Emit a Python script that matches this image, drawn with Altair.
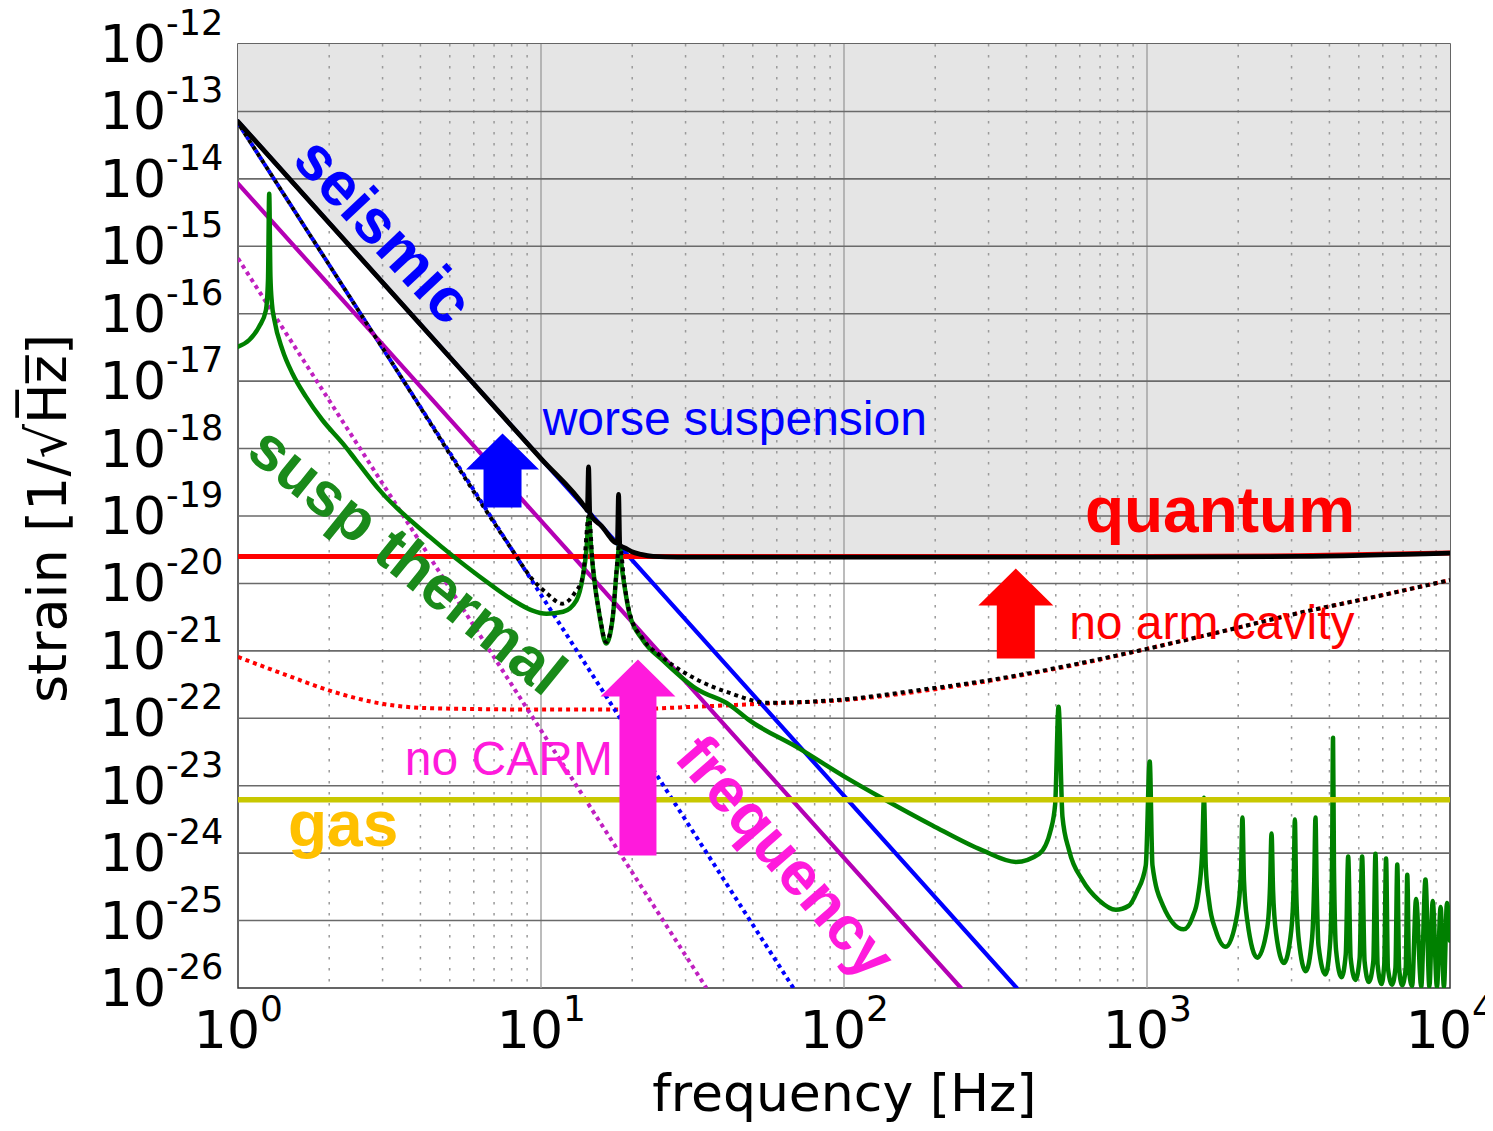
import altair as alt
import numpy as np
import pandas as pd

# ---------------- data (log10 of frequency [Hz] and strain) ----------------
SEISMIC_LOGF = [0.0, 2.570]
SEISMIC_LOGH = [-13.15, -26.0]

SEISMIC_GOOD_LOGF = [0.0, 1.833]          # blue dotted
SEISMIC_GOOD_LOGH = [-13.17, -26.0]

FREQ_LOGF = [0.0, 2.386]                  # magenta solid
FREQ_LOGH = [-14.07, -26.0]

FREQ_GOOD_LOGF = [0.0, 1.546]             # magenta dotted
FREQ_GOOD_LOGH = [-15.18, -26.0]

QUANTUM_LOGF = [0.0, 3.0, 3.5, 4.0]       # red solid
QUANTUM_LOGH = [-19.60, -19.60, -19.59, -19.55]

QUANTUM_GOOD_LOGF = [0.0, 0.16, 0.31, 0.47, 0.63, 1.0, 1.25, 1.5, 1.75, 2.0, 2.25, 2.5,
                     2.75, 3.0, 3.25, 3.5, 3.75, 4.0]
QUANTUM_GOOD_LOGH = [-21.09, -21.36, -21.60, -21.78, -21.85, -21.87, -21.87, -21.83, -21.78,
                     -21.73, -21.60, -21.43, -21.22, -20.97, -20.71, -20.44, -20.20, -19.95]

GAS_LOGF = [0.0, 4.0]
GAS_LOGH = [-23.21, -23.21]

THERMAL_LOGF = [0.000, 0.037, 0.070, 0.092, 0.099, 0.103, 0.107, 0.112, 0.120, 0.147, 0.180,
                0.224, 0.279, 0.345, 0.389, 0.468, 0.633, 0.798, 0.908, 0.970, 1.018, 1.073,
                1.117, 1.138, 1.150, 1.158, 1.165, 1.171, 1.194, 1.215, 1.237, 1.248, 1.253,
                1.259, 1.265, 1.276, 1.292, 1.336, 1.402, 1.512, 1.622, 1.688, 1.853, 1.996,
                2.128, 2.292, 2.457, 2.567, 2.644, 2.682, 2.697, 2.708, 2.721, 2.743, 2.787,
                2.842, 2.897, 2.940, 2.967, 2.996, 3.009, 3.018, 3.052, 3.121, 3.150, 3.168,
                3.182, 3.188, 3.194, 3.205, 3.227, 3.260, 3.298, 3.310, 3.315, 3.320, 3.331,
                3.364, 3.397, 3.406, 3.411, 3.416, 3.426, 3.452, 3.476, 3.484, 3.488, 3.492,
                3.501, 3.524, 3.545, 3.552, 3.556, 3.560, 3.566, 3.589, 3.605, 3.611, 3.614,
                3.617, 3.624, 3.642, 3.656, 3.664, 3.672, 3.688, 3.702, 3.710, 3.718, 3.732,
                3.747, 3.754, 3.761, 3.774, 3.783, 3.789, 3.795, 3.809, 3.820, 3.826, 3.832,
                3.842, 3.854, 3.859, 3.865, 3.875, 3.888, 3.905, 3.919, 3.932, 3.943, 3.957,
                3.969, 3.980, 3.990, 4.000]
THERMAL_LOGH = [-16.49, -16.39, -16.19, -15.95, -15.50, -14.22, -15.45, -15.85, -16.09, -16.54,
                -16.89, -17.23, -17.58, -17.92, -18.17, -18.62, -19.31, -19.90, -20.25, -20.40,
                -20.45, -20.42, -20.25, -19.90, -19.50, -19.01, -19.45, -19.75, -20.50, -20.89,
                -20.50, -19.90, -19.65, -19.41, -19.70, -20.05, -20.45, -20.84, -21.14, -21.56,
                -21.80, -22.03, -22.45, -22.85, -23.19, -23.59, -23.96, -24.13, -24.01, -23.66,
                -23.27, -21.83, -23.46, -23.96, -24.40, -24.70, -24.84, -24.78, -24.57, -24.18,
                -22.64, -24.18, -24.77, -25.13, -24.95, -24.65, -24.00, -23.18, -24.20, -24.72,
                -25.15, -25.39, -24.90, -24.30, -23.47, -24.40, -25.00, -25.55, -25.10, -24.50,
                -23.71, -24.55, -25.19, -25.63, -25.15, -24.50, -23.50, -24.50, -25.29, -25.75,
                -25.25, -24.40, -23.47, -24.50, -25.37, -25.80, -25.29, -24.00, -22.29, -24.20,
                -25.44, -25.84, -25.50, -24.05, -25.55, -25.88, -25.55, -24.05, -25.60, -25.91,
                -25.60, -24.01, -25.65, -25.94, -25.65, -24.08, -25.70, -25.95, -25.70, -24.17,
                -25.70, -25.96, -25.70, -24.32, -25.75, -25.97, -24.68, -25.98, -24.39, -25.98,
                -24.71, -25.99, -24.80, -25.99, -24.74, -25.30]

TOTAL_LOGF = [0.0, 0.5, 1.0, 1.15, 1.153, 1.157, 1.161, 1.20, 1.252, 1.256, 1.260, 1.28, 1.30,
              1.33, 1.37, 1.45, 3.0, 3.5, 4.0]
TOTAL_LOGH = [-13.15, -15.65, -18.15, -18.90, -18.92, -18.27, -18.96, -19.15, -19.40, -18.68,
              -19.43, -19.48, -19.53, -19.57, -19.60, -19.61, -19.61, -19.60, -19.55]

TOTAL_GOOD_LOGF = [0.0, 0.5, 0.9, 0.97, 1.02, 1.07, 1.11, 1.138, 1.158, 1.171, 1.194, 1.215,
                   1.237, 1.248, 1.259, 1.276, 1.292, 1.336, 1.402, 1.512, 1.62, 1.75, 2.0,
                   2.25, 2.5, 2.75, 3.0, 3.25, 3.5, 3.75, 4.0]
TOTAL_GOOD_LOGH = [-13.17, -16.67, -19.47, -19.93, -20.15, -20.30, -20.15, -19.90, -19.00,
                   -19.74, -20.48, -20.87, -20.48, -19.88, -19.40, -20.03, -20.43, -20.82,
                   -21.10, -21.42, -21.62, -21.77, -21.72, -21.58, -21.42, -21.21, -20.97,
                   -20.71, -20.44, -20.20, -19.95]

# annotation texts and their anchor positions
ANNOT_TEXT = ["seismic", "susp thermal", "frequency", "worse suspension", "quantum",
              "no arm cavity", "no CARM", "gas"]
ANNOT_LOGF = [0.476, 0.556, 1.803, 1.0056, 2.795, 2.743, 0.5506, 0.165]
ANNOT_LOGH = [-14.785, -19.68, -24.07, -17.80, -19.236, -20.82, -22.846, -23.90]

# arrow tips (worse suspension, no arm cavity, no CARM)
ARROW_LOGF = [0.873, 2.567, 1.320]
ARROW_LOGH = [-17.776, -19.779, -21.129]

# axis tick decades
X_DECADES = [0, 1, 2, 3, 4]
Y_DECADES = list(range(-12, -27, -1))
MINOR_MULT = [2, 3, 4, 5, 6, 7, 8, 9]

# ---------------- helpers ----------------
def frame(logf, logh):
    return pd.DataFrame({"f": np.power(10.0, logf), "h": np.power(10.0, logh)})

XAXIS = alt.Axis(title="frequency [Hz]", labels=False, ticks=False, domain=False, grid=False,
                 titleFont="DejaVu Sans", titleFontSize=52, titleFontWeight="normal",
                 titleColor="#000000", titleX=606, titleY=122, titleAlign="center",
                 titleBaseline="alphabetic")
YAXIS = alt.Axis(title="strain [1/\u221aH\u0305z\u0305]", labels=False, ticks=False, domain=False,
                 grid=False, titleFont="DejaVu Sans", titleFontSize=54, titleFontWeight="normal",
                 titleColor="#000000", titleAngle=270, titleX=-173, titleY=474,
                 titleAlign="center", titleBaseline="alphabetic")
XS = alt.Scale(type="log", domain=[1, 1e4], nice=False)
YS = alt.Scale(type="log", domain=[1e-26, 1e-12], nice=False)
X = alt.X("f:Q", scale=XS, axis=XAXIS)
Y = alt.Y("h:Q", scale=YS, axis=YAXIS)


def line(df, color, width, dash=None, offset=None, smooth=False):
    kw = dict(color=color, strokeWidth=width, clip=True, strokeJoin="round")
    if dash is not None:
        kw["strokeDash"] = dash
        kw["strokeCap"] = "butt"
    else:
        kw["strokeCap"] = "round"
    if offset is not None:
        kw["strokeDashOffset"] = offset
    if smooth:
        kw["interpolate"] = "monotone"
    return alt.Chart(df).mark_line(**kw).encode(x=X, y=Y, order=alt.Order("f:Q"))


# ---------------- layers ----------------
total_df = frame(TOTAL_LOGF, TOTAL_LOGH)
area = alt.Chart(total_df).mark_area(color="#E5E5E5", clip=True, orient="vertical",
                                     interpolate="monotone").encode(
    x=X, y=Y, y2=alt.datum(1e-12))

minor_f = [m * 10.0 ** d for d in X_DECADES[:-1] for m in MINOR_MULT]
minor_grid = alt.Chart(pd.DataFrame({"f": minor_f})).mark_rule(
    color="#9a9a9a", strokeWidth=1.5, strokeDash=[2.5, 8.5]).encode(x=X)
vmajor_grid = alt.Chart(pd.DataFrame({"f": [10.0 ** d for d in X_DECADES[1:-1]]})).mark_rule(
    color="#a0a0a0", strokeWidth=1.4).encode(x=X)
hmajor_grid = alt.Chart(pd.DataFrame({"h": [10.0 ** d for d in Y_DECADES[1:-1]]})).mark_rule(
    color="#6a6a6a", strokeWidth=1.6).encode(y=Y)

DOT = [4, 4]
layers = [
    area, minor_grid, vmajor_grid, hmajor_grid,
    line(frame(QUANTUM_GOOD_LOGF, QUANTUM_GOOD_LOGH), "#FF0000", 4, DOT, smooth=True),
    line(frame(FREQ_GOOD_LOGF, FREQ_GOOD_LOGH), "#C020C0", 4, DOT),
    line(frame(SEISMIC_GOOD_LOGF, SEISMIC_GOOD_LOGH), "#0000FF", 4, DOT),
    line(frame(FREQ_LOGF, FREQ_LOGH), "#B400B4", 4.2),
    line(frame(SEISMIC_LOGF, SEISMIC_LOGH), "#0000FF", 4.2),
    line(frame(QUANTUM_LOGF, QUANTUM_LOGH), "#FF0000", 5),
    line(frame(THERMAL_LOGF, THERMAL_LOGH), "#008000", 4.5, smooth=True),
    line(frame(GAS_LOGF, GAS_LOGH), "#C8C800", 5.5),
    line(frame(TOTAL_GOOD_LOGF, TOTAL_GOOD_LOGH), "#000000", 4, DOT, 4, smooth=True),
    line(total_df, "#000000", 4.8, smooth=True),
]

# arrows (custom symbol paths, tip at the data point, pixel units with size=4)
ARROW_SHAPES = [
    "M0,0 L36.5,36 L19,36 L19,74 L-19,74 L-19,36 L-36.5,36 Z",
    "M0,0 L37.5,37 L19,37 L19,90 L-19,90 L-19,37 L-37.5,37 Z",
    "M0,0 L37.5,37 L18.5,37 L18.5,196 L-18.5,196 L-18.5,37 L-37.5,37 Z",
]
ARROW_COLORS = ["#0000FF", "#FF0000", "#FF1ADC"]
for i in range(3):
    adf = frame([ARROW_LOGF[i]], [ARROW_LOGH[i]])
    layers.append(alt.Chart(adf).mark_point(shape=ARROW_SHAPES[i], size=4, filled=True,
                                            color=ARROW_COLORS[i], opacity=1, strokeWidth=0)
                  .encode(x=X, y=Y))

# annotation text styles
STYLES = [
    dict(color="#0000FF", fontSize=62, fontWeight="bold", angle=47, align="center", baseline="middle"),
    dict(color="#1A8A1A", fontSize=62, fontWeight="bold", angle=39, align="center", baseline="middle"),
    dict(color="#FF1ADC", fontSize=62, fontWeight="bold", angle=49, align="center", baseline="middle"),
    dict(color="#0000FF", fontSize=48, fontWeight="normal", align="left", baseline="alphabetic"),
    dict(color="#FF0000", fontSize=64, fontWeight="bold", align="left", baseline="alphabetic"),
    dict(color="#FF0000", fontSize=48, fontWeight="normal", align="left", baseline="alphabetic"),
    dict(color="#FF1ADC", fontSize=48, fontWeight="normal", align="left", baseline="alphabetic"),
    dict(color="#FFC000", fontSize=64, fontWeight="bold", align="left", baseline="alphabetic"),
]
for i, txt in enumerate(ANNOT_TEXT):
    tdf = frame([ANNOT_LOGF[i]], [ANNOT_LOGH[i]])
    tdf["t"] = [txt]
    layers.append(alt.Chart(tdf).mark_text(font="Liberation Sans", **STYLES[i])
                  .encode(x=X, y=Y, text="t:N"))

# tick labels: "10" with a raised exponent
ydf = pd.DataFrame({"f": [1.0] * len(Y_DECADES), "h": [10.0 ** d for d in Y_DECADES],
                    "e": [str(d) for d in Y_DECADES]})
layers.append(alt.Chart(ydf).mark_text(text="10", font="DejaVu Sans", fontSize=52, align="right",
                                       baseline="alphabetic", dx=-72, dy=18, color="#000000")
              .encode(x=X, y=Y))
layers.append(alt.Chart(ydf).mark_text(font="DejaVu Sans", fontSize=35, align="left",
                                       baseline="alphabetic", dx=-72, dy=-9, color="#000000")
              .encode(x=X, y=Y, text="e:N"))
xdf = pd.DataFrame({"f": [10.0 ** d for d in X_DECADES], "h": [1e-26] * len(X_DECADES),
                    "e": [str(d) for d in X_DECADES]})
layers.append(alt.Chart(xdf).mark_text(text="10", font="DejaVu Sans", fontSize=52, align="right",
                                       baseline="alphabetic", dx=22, dy=60, color="#000000")
              .encode(x=X, y=Y))
layers.append(alt.Chart(xdf).mark_text(font="DejaVu Sans", fontSize=36, align="left",
                                       baseline="alphabetic", dx=22, dy=33, color="#000000")
              .encode(x=X, y=Y, text="e:N"))

chart = alt.layer(*layers).properties(
    width=1212, height=944,
    autosize=alt.AutoSizeParams(type="none"),
    padding={"left": 230, "top": 36, "right": 35, "bottom": 135},
    background="white",
).configure_view(stroke="#333333", strokeWidth=1.5)

chart.save("out.html", embed_options={"renderer": "svg", "actions": False})
